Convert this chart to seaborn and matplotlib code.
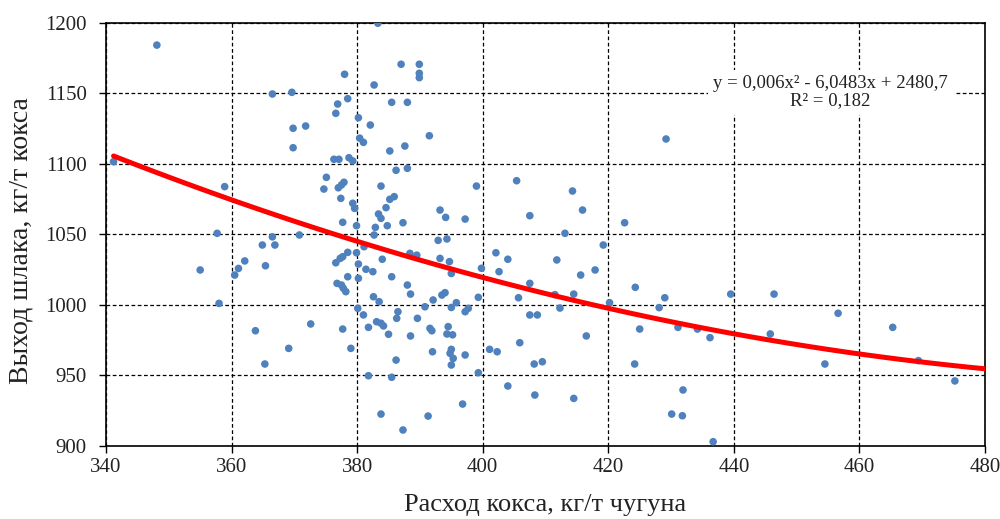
import matplotlib
matplotlib.use("Agg")
import matplotlib.pyplot as plt
import seaborn as sns
import pandas as pd

# ---- data ----
coke_rate = [
    348.1, 341.2, 358.9, 357.7, 355.0, 358.0, 360.5, 361.1, 362.1, 364.9, 365.4, 363.8, 365.3,
    383.3, 387.0, 378.0, 382.7, 366.5, 369.6, 378.5, 376.9, 376.6, 385.5, 380.2, 382.1, 369.8,
    371.8, 369.8, 380.4, 381.0, 385.2, 376.3, 377.1, 378.7, 379.3, 386.2, 375.1, 374.7, 377.9,
    377.5, 377.0, 377.4, 383.8, 385.2, 385.9, 384.6, 379.3, 379.6, 383.4, 383.8, 377.7, 379.9,
    384.8, 382.9, 366.5, 370.8, 382.7,
    366.9, 376.6, 377.3, 377.7, 378.5, 379.9, 381.1, 380.2, 381.4, 382.5, 384.0, 378.5, 380.2,
    376.8, 377.5, 377.8, 378.2, 385.5, 382.6, 383.5, 380.1, 381.0, 381.8, 383.1, 383.8, 384.2,
    385.0, 386.3, 386.5, 377.7, 372.6, 369.1, 379.0, 386.2, 381.8, 385.5, 383.8, 387.3,
    389.9, 389.9, 389.9, 388.0, 391.5, 387.6, 388.0, 399.0, 405.4, 393.2, 394.1, 397.2, 407.5,
    387.3, 392.9, 394.3,
    388.4, 389.5, 393.2, 394.7, 395.0, 388.0, 388.5, 392.1, 393.5, 394.0, 390.8, 395.0, 395.8,
    397.2, 397.7, 399.3, 399.8, 389.6, 391.6, 391.9, 388.5, 394.5, 394.3, 395.2, 395.0, 394.8,
    395.3, 395.0, 392.0, 397.2, 399.3, 396.8, 391.3, 402.1, 404.0, 402.6, 407.5, 405.7, 411.8,
    411.5, 412.3, 407.5, 408.7, 401.1, 402.3, 405.9, 408.2, 409.5, 404.0, 408.3,
    429.2, 414.3, 415.9, 422.6, 413.1,
    419.2, 415.6, 417.9, 414.5, 420.2, 416.5, 424.3, 425.0, 424.2, 429.0, 428.1, 431.1, 434.2,
    436.2, 439.5, 446.4, 445.8, 414.5, 431.9, 430.1, 431.8, 436.7,
    456.6, 454.5, 465.3, 469.4, 475.2,
]
slag_yield = [
    1184.0, 1101.3, 1083.6, 1050.5, 1024.5, 1000.8, 1020.9, 1025.6, 1030.9, 1042.2, 1027.5, 981.4, 957.8,
    1199.5, 1170.4, 1163.3, 1155.7, 1149.3, 1150.5, 1146.0, 1142.2, 1135.6, 1143.4, 1132.5, 1127.3, 1125.0,
    1126.6, 1111.2, 1118.0, 1115.0, 1108.9, 1103.0, 1103.0, 1104.1, 1101.8, 1095.2, 1090.2, 1081.9, 1086.7,
    1084.8, 1082.8, 1075.3, 1084.0, 1074.6, 1076.5, 1068.7, 1071.8, 1068.2, 1064.2, 1061.1, 1058.3, 1055.9,
    1055.9, 1054.7, 1048.0, 1049.3, 1049.3,
    1042.2, 1029.6, 1032.7, 1033.9, 1037.0, 1036.7, 1041.0, 1028.7, 1025.0, 1023.3, 1032.1, 1019.7, 1018.6,
    1015.0, 1013.8, 1011.5, 1009.1, 1019.7, 1005.5, 1002.0, 997.3, 992.6, 983.8, 987.8, 986.7, 984.8,
    978.9, 990.2, 994.9, 982.6, 986.2, 968.9, 968.9, 960.6, 949.5, 948.4, 922.3, 911.0,
    1170.4, 1164.0, 1160.9, 1143.4, 1119.7, 1112.4, 1096.6, 1084.0, 1087.8, 1067.0, 1061.8, 1060.6, 1063.0,
    1058.0, 1045.5, 1046.5,
    1036.3, 1035.0, 1032.7, 1030.4, 1022.0, 1013.8, 1007.4, 1003.2, 1006.7, 1008.4, 998.4, 997.9, 1001.3,
    994.9, 997.3, 1005.1, 1025.7, 990.2, 983.1, 981.4, 977.7, 984.3, 979.1, 978.5, 968.2, 965.4,
    961.8, 957.1, 966.5, 964.2, 951.6, 929.4, 920.9, 1036.7, 1032.1, 1023.3, 1015.0, 1004.8, 1031.6,
    1007.0, 997.5, 992.6, 992.6, 968.2, 966.5, 972.9, 957.8, 959.4, 942.2, 935.8,
    1117.4, 1080.5, 1067.0, 1058.0, 1050.5,
    1042.2, 1020.9, 1024.5, 1007.4, 1001.3, 977.7, 1012.2, 982.6, 957.8, 1004.8, 997.8, 983.8, 982.6,
    976.5, 1007.4, 1007.4, 979.1, 933.4, 939.4, 922.3, 921.1, 902.7,
    993.8, 957.8, 983.8, 960.2, 945.8,
]
x_ticks = [340, 360, 380, 400, 420, 440, 460, 480]
y_ticks = [900, 950, 1000, 1050, 1100, 1150, 1200]
x_label = "Расход кокса, кг/т чугуна"
y_label = "Выход шлака, кг/т кокса"
equation_text = "y = 0,006x² - 6,0483x + 2480,7\nR² = 0,182"

df = pd.DataFrame({"coke": coke_rate, "slag": slag_yield})

sns.set_theme(style="white")
plt.rcParams["font.family"] = ["Liberation Serif", "DejaVu Serif"]

fig = plt.figure(figsize=(10, 5.19), dpi=100)
ax = fig.add_axes([0.106, 0.1416, 0.879, 0.815])

ax.set_xlim(340, 480)
ax.set_ylim(900, 1200)
ax.set_xticks(x_ticks)
ax.set_yticks(y_ticks)
ax.grid(True, color="black", linestyle=(0, (3, 2)), linewidth=0.9)
ax.set_axisbelow(True)

sns.scatterplot(data=df, x="coke", y="slag", ax=ax, color="#4F81BD",
                s=30, edgecolor="none", zorder=3)

# quadratic trend line fitted by seaborn
ax.set_xlim(min(coke_rate), 480)
sns.regplot(data=df, x="coke", y="slag", ax=ax, order=2, ci=None, scatter=False,
            truncate=False, line_kws=dict(color="#FF0000", linewidth=3.6, zorder=4))
ax.set_xlim(340, 480)
ax.set_ylim(900, 1200)

for side in ["top", "right", "left", "bottom"]:
    ax.spines[side].set_visible(True)
    ax.spines[side].set_color("black")
    ax.spines[side].set_linewidth(1.2)

ax.tick_params(axis="both", which="major", direction="out", length=5, width=1,
               color="black", labelsize=15, labelcolor="#222222")
ax.tick_params(axis="y", pad=9)
ax.tick_params(axis="x", pad=4)
ax.tick_params(bottom=True, left=True)

ax.set_xlabel(x_label, fontsize=19, color="#222222")
ax.set_ylabel(y_label, fontsize=20, color="#222222")
ax.xaxis.set_label_coords(0.5, -0.115)
ax.yaxis.set_label_coords(-0.083, 0.485)

ax.text(455.4, 1150.5, equation_text, ha="center", va="center", fontsize=13.5,
        color="#222222", linespacing=1.0, zorder=5,
        bbox=dict(facecolor="white", edgecolor="none", pad=4))

fig.savefig("out.png", dpi=100)
